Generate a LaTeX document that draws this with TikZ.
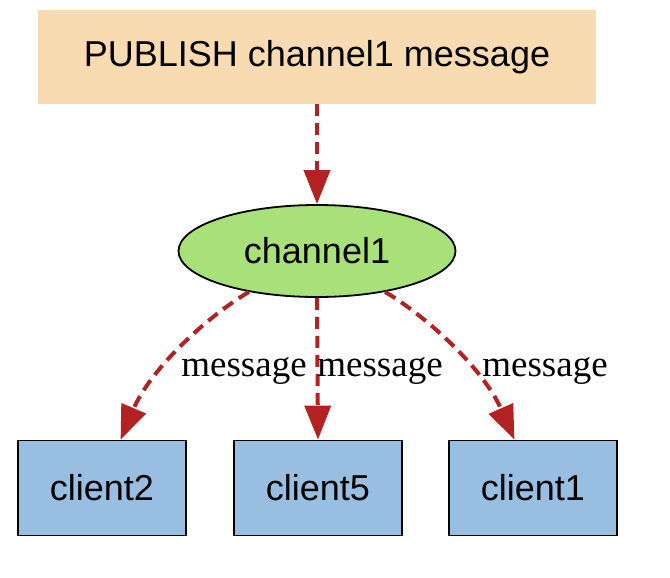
\documentclass[tikz,border=0pt]{standalone}
\usepackage{fontspec}
\setmainfont{Liberation Sans}
\newfontfamily\labelfont{Liberation Serif}
\usetikzlibrary{arrows.meta,shapes.geometric}
\definecolor{pubfill}{HTML}{F8DBB0}
\definecolor{chfill}{HTML}{A8E07A}
\definecolor{clfill}{HTML}{98BEE2}
\definecolor{arrowred}{HTML}{B22222}
\tikzset{
  pubbox/.style={fill=pubfill, draw=none, minimum width=558pt, minimum height=94pt, inner sep=0pt, font=\fontsize{36}{40}\selectfont},
  chnode/.style={ellipse, fill=chfill, draw=black, line width=1.8pt, minimum width=277pt, minimum height=92pt, inner sep=0pt, font=\fontsize{36}{40}\selectfont},
  clbox/.style={rectangle, fill=clfill, draw=black, line width=1.8pt, minimum width=168pt, minimum height=95pt, inner sep=0pt, font=\fontsize{36}{40}\selectfont},
  msgarrow/.style={draw=arrowred, line width=4pt, dash pattern=on 12pt off 7pt, -{Triangle[length=34pt,width=26pt,fill=arrowred]}},
  msglabel/.style={font=\labelfont\fontsize{37}{40}\selectfont, inner sep=0pt}
}
\begin{document}
\begin{tikzpicture}[x=1pt,y=-1pt]
\useasboundingbox (0,0) rectangle (670,578);
\node[pubbox] (pub) at (317,57) {PUBLISH channel1 message};
\node[chnode] (ch) at (317,251) {channel1};
\node[clbox] (c2) at (102,488) {client2};
\node[clbox] (c5) at (318,488) {client5};
\node[clbox] (c1) at (533,488) {client1};
\draw[msgarrow] (pub.south) -- (ch.north);
\draw[msgarrow] (ch.south) -- (c5.north);
\draw[msgarrow] (ch.211) .. controls (205,318) and (150,370) .. (c2.69);
\draw[msgarrow] (ch.329) .. controls (429,318) and (484,370) .. (c1.111);
\node[msglabel] (l2) at (244,371) {message};
\node[msglabel] (l5) at (380,371) {message};
\node[msglabel] (l1) at (545,371) {message};
\end{tikzpicture}
\end{document}
